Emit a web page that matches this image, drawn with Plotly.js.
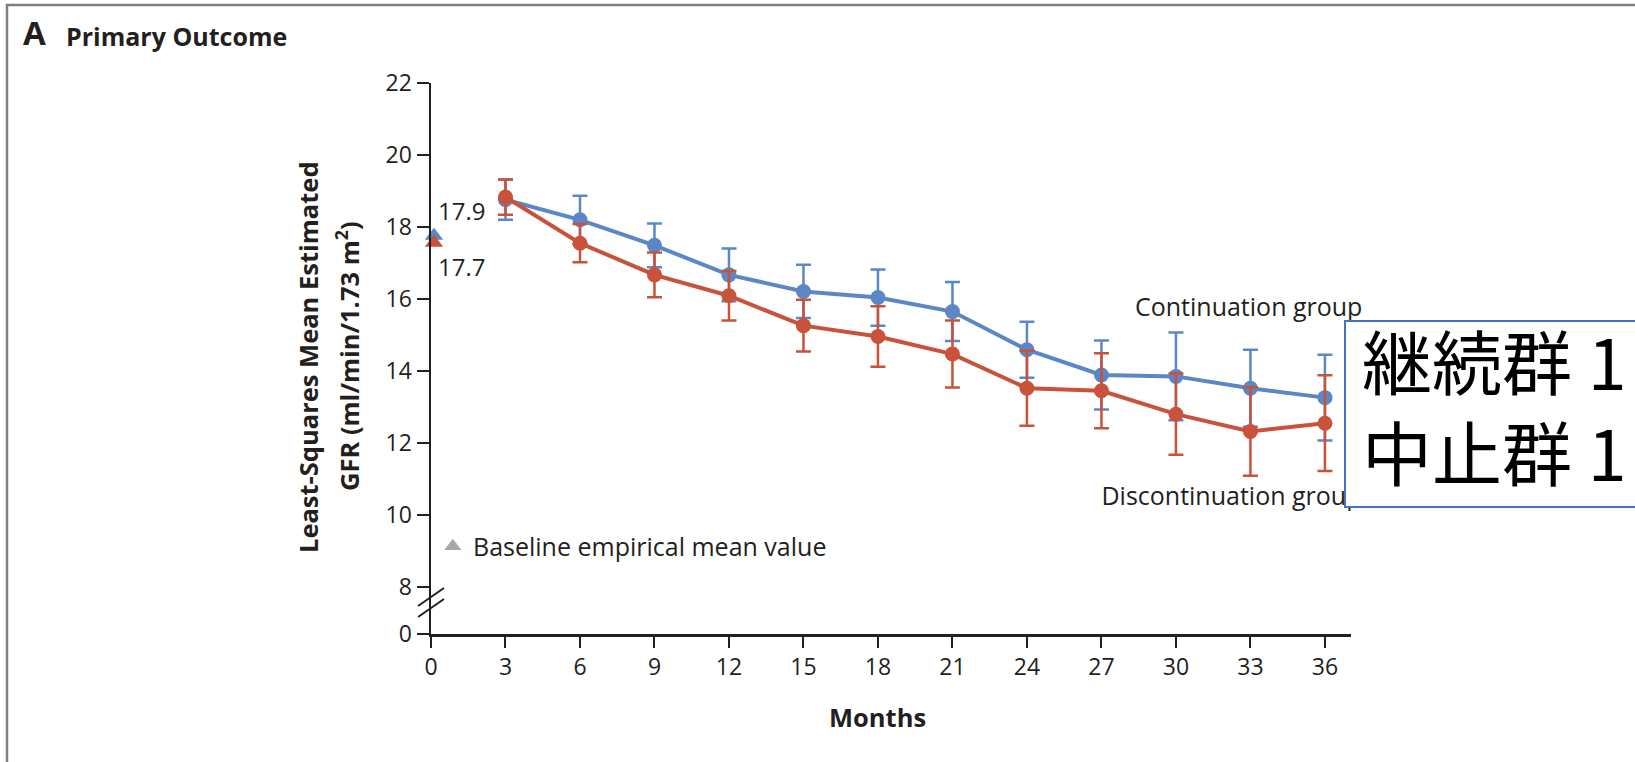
<!DOCTYPE html>
<html>
<head>
<meta charset="utf-8">
<script src="https://cdn.plot.ly/plotly-3.0.1.min.js"></script>
<style>
  html, body { margin: 0; padding: 0; background: #ffffff; }
  #chart { width: 1635px; height: 762px; }
</style>
</head>
<body>
<div id="chart"></div>
<script>
// ---- data ----
const months = [3, 6, 9, 12, 15, 18, 21, 24, 27, 30, 33, 36];
const contMean = [18.76, 18.20, 17.49, 16.67, 16.21, 16.04, 15.65, 14.59, 13.89, 13.85, 13.52, 13.26];
const contErr  = [0.56, 0.67, 0.61, 0.73, 0.74, 0.78, 0.82, 0.78, 0.96, 1.22, 1.07, 1.19];
const discMean = [18.83, 17.55, 16.67, 16.09, 15.26, 14.96, 14.47, 13.52, 13.45, 12.80, 12.32, 12.55];
const discErr  = [0.49, 0.53, 0.62, 0.69, 0.72, 0.84, 0.93, 1.04, 1.04, 1.13, 1.23, 1.33];
const baselineMonth = [0.12];
const baselineCont = [17.76];          // marker position as drawn (labelled 17.9)
const baselineDisc = [17.56];          // marker position as drawn (labelled 17.7)
const baselineLabels = ['17.9', '17.7'];
const xTickVals = [0, 3, 6, 9, 12, 15, 18, 21, 24, 27, 30, 33, 36];
const yBreakPos = 6.694;               // where the "0" of the broken axis sits
const yTickVals = [yBreakPos, 8, 10, 12, 14, 16, 18, 20, 22];
const yTickText = ['0', '8', '10', '12', '14', '16', '18', '20', '22'];
const groupLabels = ['Continuation group', 'Discontinuation group'];
const boxLines = ['継続群 1', '中止群 1'];

// ---- styling ----
const BLUE = '#5b87c6';
const RED = '#c8523a';
const INK = '#231f20';
const FONT = '"Open Sans", "Noto Sans", sans-serif';
const CJK = '"Noto Sans CJK JP", "Noto Sans CJK SC", sans-serif';

// pixel -> paper helpers for the fixed plot area
const L = 431, R = 284, T = 83, B = 128, W = 1635, H = 762;
const PW = W - L - R, PH = H - T - B;
const px = v => (v - L) / PW;
const py = v => (H - B - v) / PH;

const traces = [
  {
    x: months, y: contMean, type: 'scatter', mode: 'lines+markers',
    line: { color: BLUE, width: 4 },
    marker: { color: BLUE, size: 15 },
    error_y: { type: 'data', array: contErr, visible: true, color: BLUE, thickness: 2.5, width: 7.5 },
    hoverinfo: 'skip'
  },
  {
    x: months, y: discMean, type: 'scatter', mode: 'lines+markers',
    line: { color: RED, width: 4 },
    marker: { color: RED, size: 15 },
    error_y: { type: 'data', array: discErr, visible: true, color: RED, thickness: 2.5, width: 7.5 },
    hoverinfo: 'skip'
  },
  {
    x: baselineMonth, y: baselineCont, type: 'scatter', mode: 'markers', cliponaxis: false,
    marker: { symbol: 'triangle-up', color: BLUE, size: 16 }, hoverinfo: 'skip'
  },
  {
    x: baselineMonth, y: baselineDisc, type: 'scatter', mode: 'markers', cliponaxis: false,
    marker: { symbol: 'triangle-up', color: RED, size: 16 }, hoverinfo: 'skip'
  },
  {
    x: [0.88], y: [9.13], type: 'scatter', mode: 'markers', cliponaxis: false,
    marker: { symbol: 'triangle-up', color: '#a8a8a8', size: 15 }, hoverinfo: 'skip'
  },
  {
    x: [28.35, 27.0], y: [15.71, 10.46], type: 'scatter', mode: 'text', cliponaxis: false,
    text: groupLabels, textposition: 'middle right',
    textfont: { family: FONT, size: 25, color: INK }, hoverinfo: 'skip'
  }
];

const annotations = [
  { xref: 'paper', yref: 'paper', x: px(21), y: py(33), xanchor: 'left', yanchor: 'middle',
    text: '<b>A</b>', showarrow: false, font: { family: FONT, size: 33, color: INK } },
  { xref: 'paper', yref: 'paper', x: px(64), y: py(36), xanchor: 'left', yanchor: 'middle',
    text: '<b>Primary Outcome</b>', showarrow: false, font: { family: FONT, size: 25, color: INK } },
  { xref: 'paper', yref: 'paper', x: px(308), y: py(357), xanchor: 'center', yanchor: 'middle', textangle: -90,
    text: '<b>Least-Squares Mean Estimated</b>', showarrow: false, font: { family: FONT, size: 25.5, color: INK } },
  { xref: 'paper', yref: 'paper', x: px(347), y: py(356), xanchor: 'center', yanchor: 'middle', textangle: -90,
    text: '<b>GFR (ml/min/1.73 m<sup>2</sup>)</b>', showarrow: false, font: { family: FONT, size: 25.5, color: INK } },
  { xref: 'x', yref: 'paper', x: 18, y: py(717), xanchor: 'center', yanchor: 'middle',
    text: '<b>Months</b>', showarrow: false, font: { family: FONT, size: 25.5, color: INK } },
  { xref: 'x', yref: 'y', x: 0.22, y: 18.45, xanchor: 'left', yanchor: 'middle',
    text: baselineLabels[0], showarrow: false, font: { family: FONT, size: 24, color: INK } },
  { xref: 'x', yref: 'y', x: 0.22, y: 16.9, xanchor: 'left', yanchor: 'middle',
    text: baselineLabels[1], showarrow: false, font: { family: FONT, size: 24, color: INK } },
  { xref: 'x', yref: 'y', x: 1.62, y: 9.13, xanchor: 'left', yanchor: 'middle',
    text: 'Baseline empirical mean value', showarrow: false, font: { family: FONT, size: 25, color: INK } },
  { xref: 'paper', yref: 'paper', x: px(1360), y: py(405), xanchor: 'left', yanchor: 'middle', align: 'left',
    text: boxLines.join('<br>'), showarrow: false, font: { family: CJK, size: 70, color: '#000000' } }
];

const shapes = [
  // outer figure frame (left + top visible)
  { type: 'rect', xref: 'paper', yref: 'paper', x0: px(7), x1: px(1700), y0: py(5), y1: py(800),
    line: { color: '#7f7f7f', width: 2.5 }, fillcolor: 'rgba(0,0,0,0)', layer: 'below' },
  // axis break marks
  { type: 'line', xref: 'paper', yref: 'paper', x0: px(418), y0: py(606), x1: px(444), y1: py(588),
    line: { color: INK, width: 2 } },
  { type: 'line', xref: 'paper', yref: 'paper', x0: px(418), y0: py(617), x1: px(444), y1: py(599),
    line: { color: INK, width: 2 } },
  // overlay box (runs off the right edge)
  { type: 'rect', xref: 'paper', yref: 'paper', x0: px(1345), x1: px(1700), y0: py(321), y1: py(507),
    line: { color: '#4472c4', width: 2 }, fillcolor: '#ffffff', layer: 'above' }
];

const layout = {
  width: W, height: H,
  margin: { l: L, r: R, t: T, b: B, pad: 0 },
  paper_bgcolor: '#ffffff', plot_bgcolor: '#ffffff',
  showlegend: false,
  font: { family: FONT, color: INK, size: 24 },
  xaxis: {
    range: [0, 37.05], tickvals: xTickVals, ticktext: xTickVals.map(String),
    ticks: 'outside', ticklen: 11, tickwidth: 2, tickcolor: INK,
    showline: true, linewidth: 2.5, linecolor: INK,
    showgrid: false, zeroline: false, fixedrange: true,
    tickfont: { family: FONT, size: 23, color: INK }
  },
  yaxis: {
    range: [yBreakPos, 22], tickvals: yTickVals, ticktext: yTickText,
    ticks: 'outside', ticklen: 12, tickwidth: 2, tickcolor: INK,
    showline: true, linewidth: 2.5, linecolor: INK,
    showgrid: false, zeroline: false, fixedrange: true,
    tickfont: { family: FONT, size: 23, color: INK }
  },
  annotations: annotations,
  shapes: shapes
};

Plotly.newPlot('chart', traces, layout, { displayModeBar: false, staticPlot: true });
</script>
</body>
</html>
